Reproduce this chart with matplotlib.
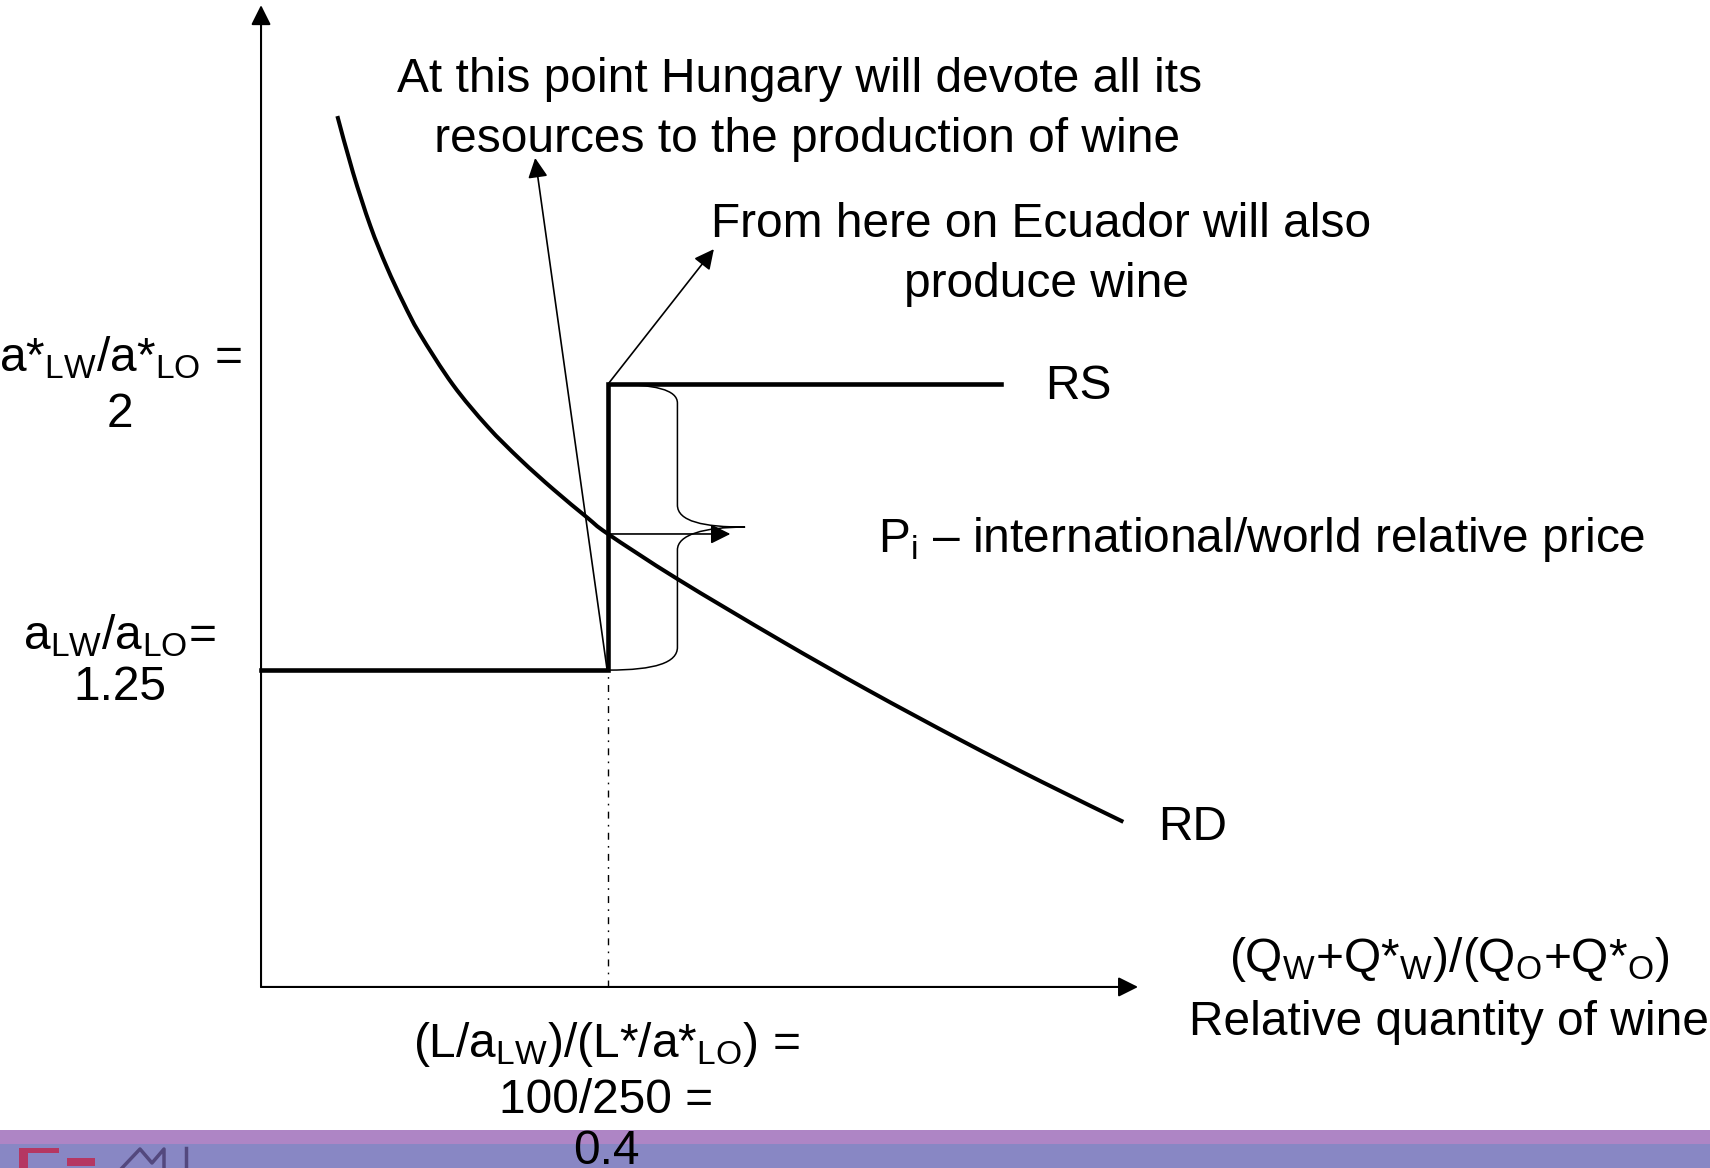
import matplotlib
matplotlib.use("Agg")
import matplotlib.pyplot as plt
from matplotlib.patches import Rectangle, PathPatch
from matplotlib.path import Path

plt.rcParams['font.family'] = ['Liberation Sans', 'DejaVu Sans']
plt.rcParams['mathtext.fontset'] = 'custom'
plt.rcParams['mathtext.rm'] = 'Liberation Sans'
plt.rcParams['mathtext.it'] = 'Liberation Sans'
plt.rcParams['mathtext.default'] = 'regular'

# --- model values ---
p_hungary = 1.25      # a_LW / a_LO
p_ecuador = 2.0       # a*_LW / a*_LO
q_switch = 0.4        # (L/a_LW)/(L*/a*_LO) = 100/250
p_world = 1.607       # where RD crosses the vertical part of RS

# relative supply: flat at Hungary's price, vertical at 0.4, flat at Ecuador's price
rs_x = [0.0, q_switch, q_switch, 0.853]
rs_y = [p_hungary, p_hungary, p_ecuador, p_ecuador]

# relative demand
rd_x = [0.088, 0.106, 0.126, 0.145, 0.164, 0.183, 0.221, 0.261, 0.299,
        0.337, 0.376, 0.400, 0.480, 0.598, 0.700, 0.806, 0.900, 0.994]
rd_y = [2.703, 2.555, 2.415, 2.307, 2.214, 2.132, 1.999, 1.889, 1.802,
        1.724, 1.650, 1.607, 1.489, 1.329, 1.197, 1.067, 0.957, 0.852]

y_floor = 0.419       # height where the horizontal axis is drawn
x_axis_end = 1.011
y_axis_end = 2.994

W, H = 1710, 1168
fig = plt.figure(figsize=(W / 100, H / 100), dpi=100)
ax = fig.add_axes([0, 0, 1, 1])
ax.set_xlim(-0.3009, 1.6703)
ax.set_ylim(-0.0558, 3.0074)
ax.axis('off')
ax.set_facecolor('none')

head = '-|>,head_length=0.6,head_width=0.3'


def arrow(start, tip, lw):
    ax.annotate('', xy=tip, xytext=start,
                arrowprops=dict(arrowstyle=head, mutation_scale=20, lw=lw,
                                color='black', shrinkA=0, shrinkB=0))


def smooth_path(xs, ys):
    # cubic segments through every point (Catmull-Rom tangents)
    pts = list(zip(xs, ys))
    verts = [pts[0]]
    codes = [Path.MOVETO]
    n = len(pts)
    for i in range(n - 1):
        p0 = pts[max(i - 1, 0)]
        p1 = pts[i]
        p2 = pts[i + 1]
        p3 = pts[min(i + 2, n - 1)]
        c1 = (p1[0] + (p2[0] - p0[0]) / 6, p1[1] + (p2[1] - p0[1]) / 6)
        c2 = (p2[0] - (p3[0] - p1[0]) / 6, p2[1] - (p3[1] - p1[1]) / 6)
        verts += [c1, c2, p2]
        codes += [Path.CURVE4] * 3
    return Path(verts, codes)


# axes
arrow((0, y_floor), (0, y_axis_end), 1.5)
arrow((0, y_floor), (x_axis_end, y_floor), 1.5)

# RS and RD
ax.plot(rs_x, rs_y, color='black', lw=3.3, solid_joinstyle='miter', zorder=3)
ax.add_patch(PathPatch(smooth_path(rd_x, rd_y), fill=False, lw=2.9,
                       edgecolor='black', capstyle='butt', zorder=3))

# drop line from the kink down to the quantity axis
ax.plot([q_switch, q_switch], [y_floor, p_hungary], color='black', lw=1.0,
        linestyle=(0, (5, 4.5, 1.2, 4.5)))

# pointer arrows for the annotations
arrow((0.399, p_hungary), (0.316, 2.593), 1.2)
arrow((q_switch, p_ecuador), (0.522, 2.354), 1.2)
arrow((q_switch, p_world), (0.541, p_world), 1.2)

# curly brace spanning the vertical part of RS
brace_verts = [
    (0.400, 2.000),
    (0.455, 2.000), (0.480, 1.985), (0.480, 1.950),
    (0.480, 1.683),
    (0.480, 1.640), (0.510, 1.625), (0.558, 1.625),
    (0.510, 1.625), (0.480, 1.605), (0.480, 1.565),
    (0.480, 1.310),
    (0.480, 1.270), (0.455, 1.250), (0.400, 1.250),
]
brace_codes = [Path.MOVETO,
               Path.CURVE4, Path.CURVE4, Path.CURVE4,
               Path.LINETO,
               Path.CURVE4, Path.CURVE4, Path.CURVE4,
               Path.CURVE4, Path.CURVE4, Path.CURVE4,
               Path.LINETO,
               Path.CURVE4, Path.CURVE4, Path.CURVE4]
ax.add_patch(PathPatch(Path(brace_verts, brace_codes), fill=False,
                       lw=1.1, edgecolor='black'))

fs = 34.5
txt = dict(fontsize=fs, color='black', ha='center', va='center')

ax.text(0.621, 2.799, 'At this point Hungary will devote all its', **txt)
ax.text(0.622, 2.641, ' resources to the production of wine', **txt)
ax.text(0.899, 2.418, 'From here on Ecuador will also', **txt)
ax.text(0.906, 2.262, 'produce wine', **txt)

ax.text(0.904, 1.994, 'RS', fontsize=fs, ha='left', va='center')
ax.text(1.034, 0.838, 'RD', fontsize=fs, ha='left', va='center')
ax.text(0.711, 1.592, 'P$_i$ – international/world relative price',
        fontsize=fs, ha='left', va='center')

ax.text(-0.162, 2.068, 'a*$_{LW}$/a*$_{LO}$ =', **txt)
ax.text(-0.163, 1.921, '2', **txt)
ax.text(-0.163, 1.339, 'a$_{LW}$/a$_{LO}$=', **txt)
ax.text(-0.163, 1.205, '1.25', **txt)

ax.text(0.398, 0.269, '(L/a$_{LW}$)/(L*/a*$_{LO}$) =', **txt)
ax.text(0.398, 0.122, '100/250 =', **txt)
ax.text(0.398, -0.012, '0.4', zorder=5, **txt)

ax.text(1.370, 0.490, '(Q$_W$+Q*$_W$)/(Q$_O$+Q*$_O$)', **txt)
ax.text(1.370, 0.326, 'Relative quantity of wine', **txt)


# footer band and logo fragment, placed in figure pixels
def fx(x):
    return x / W


def fy(y):
    return (H - y) / H


fig.add_artist(Rectangle((0, fy(1144)), 1, fy(1130) - fy(1144),
                         transform=fig.transFigure, color='#AE85C5',
                         lw=0, zorder=-2))
fig.add_artist(Rectangle((0, 0), 1, fy(1144), transform=fig.transFigure,
                         color='#8887C4', lw=0, zorder=-2))
logo_red = '#B53762'
for x0, y0, x1, y1 in [(19, 1148, 59, 1153), (19, 1148, 28, 1168),
                       (67, 1158, 95, 1166)]:
    fig.add_artist(Rectangle((fx(x0), fy(y1)), fx(x1) - fx(x0),
                             fy(y0) - fy(y1), transform=fig.transFigure,
                             color=logo_red, lw=0, zorder=-1))
m_x = [122, 140, 152, 164, 164]
m_y = [1168, 1149, 1163, 1149, 1168]
fig.add_artist(plt.Line2D([fx(v) for v in m_x], [fy(v) for v in m_y],
                          transform=fig.transFigure, color='#53487E',
                          lw=2.5, zorder=-1))
fig.add_artist(plt.Line2D([fx(186), fx(186)], [fy(1148), fy(1168)],
                          transform=fig.transFigure, color='#53487E',
                          lw=2.5, zorder=-1))

fig.savefig('out.png', dpi=100)
